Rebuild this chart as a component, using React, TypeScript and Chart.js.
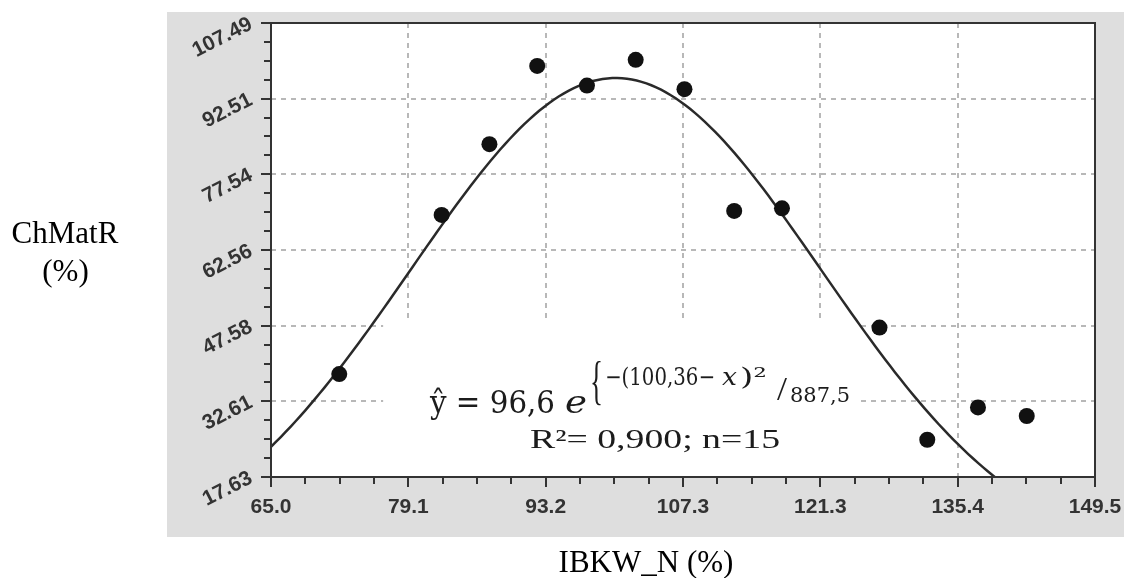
import React, { useEffect, useRef } from 'react';
import { Chart, registerables } from 'chart.js';

Chart.register(...registerables);

// Axis ranges and tick labels
const xMin = 65.0;
const xMax = 149.5;
const yMin = 17.63;
const yMax = 107.49;
const xTickLabels = ['65.0', '79.1', '93.2', '107.3', '121.3', '135.4', '149.5'];
const yTickLabels = ['17.63', '32.61', '47.58', '62.56', '77.54', '92.51', '107.49'];

// Observations: IBKW_N (%) vs ChMatR (%)
const ibkwN = [72.0, 82.5, 87.4, 92.3, 97.4, 102.4, 107.4, 112.5, 117.4, 127.4, 132.3, 137.5, 142.5];
const chMatR = [38.0, 69.5, 83.5, 99.0, 95.1, 100.2, 94.4, 70.3, 70.8, 47.2, 25.0, 31.4, 29.7];

// Fitted Gaussian model: ŷ = 96,6 · e^(−(100,36 − x)² / 887,5)
const fitA = 96.6;
const fitB = 100.36;
const fitC = 887.5;

const MAJOR_DIVS = 6;
const MINOR_DIVS = 4;

const majorValues = (min: number, max: number) =>
  Array.from({ length: MAJOR_DIVS + 1 }, (_, i) => min + ((max - min) * i) / MAJOR_DIVS);

const fitXs: number[] = [];
for (let x = xMin; x <= xMax + 1e-9; x += 0.5) fitXs.push(x);
const fitPoints = fitXs.map((x) => ({ x, y: fitA * Math.exp(-((fitB - x) ** 2) / fitC) }));

const tickFont = { family: '"Liberation Sans", Arial, sans-serif', size: 21, weight: 'bold' as const };

function drawFitted(
  ctx: CanvasRenderingContext2D,
  text: string,
  x: number,
  baseline: number,
  font: string,
  width: number
) {
  ctx.font = font;
  const w = ctx.measureText(text).width || 1;
  ctx.save();
  ctx.translate(x, baseline);
  ctx.scale(width / w, 1);
  ctx.textAlign = 'left';
  ctx.textBaseline = 'alphabetic';
  ctx.fillText(text, 0, 0);
  ctx.restore();
}

const decorPlugin = {
  id: 'decor',
  beforeDraw(chart: any) {
    const { ctx, chartArea: a } = chart;
    ctx.save();
    ctx.fillStyle = '#dedede';
    ctx.fillRect(167, 12, 1124 - 167, 537 - 12);
    ctx.fillStyle = '#ffffff';
    ctx.fillRect(a.left, a.top, a.right - a.left, a.bottom - a.top);
    ctx.restore();
  },
  beforeDatasetsDraw(chart: any) {
    // white panel behind the equation text
    const { ctx, chartArea: a, scales } = chart;
    const l = scales.x.getPixelForValue(76.5);
    const r = scales.x.getPixelForValue(125.4);
    const t = scales.y.getPixelForValue(48.3);
    ctx.save();
    ctx.fillStyle = '#ffffff';
    ctx.fillRect(l, t, r - l, a.bottom - t);
    ctx.restore();
  },
  afterDraw(chart: any) {
    const { ctx, chartArea: a, scales } = chart;
    ctx.save();
    // frame
    ctx.strokeStyle = '#333333';
    ctx.lineWidth = 2;
    ctx.strokeRect(a.left, a.top, a.right - a.left, a.bottom - a.top);

    // minor ticks
    ctx.lineWidth = 2;
    const xs = majorValues(xMin, xMax);
    for (let i = 0; i < xs.length - 1; i++) {
      const step = (xs[i + 1] - xs[i]) / MINOR_DIVS;
      for (let k = 1; k < MINOR_DIVS; k++) {
        const px = Math.round(scales.x.getPixelForValue(xs[i] + k * step));
        ctx.beginPath();
        ctx.moveTo(px, a.bottom);
        ctx.lineTo(px, a.bottom + 7);
        ctx.stroke();
      }
    }
    const ys = majorValues(yMin, yMax);
    for (let i = 0; i < ys.length - 1; i++) {
      const step = (ys[i + 1] - ys[i]) / MINOR_DIVS;
      for (let k = 1; k < MINOR_DIVS; k++) {
        const py = Math.round(scales.y.getPixelForValue(ys[i] + k * step));
        ctx.beginPath();
        ctx.moveTo(a.left, py);
        ctx.lineTo(a.left - 7, py);
        ctx.stroke();
      }
    }

    // axis titles
    ctx.fillStyle = '#000000';
    ctx.font = '31px "Liberation Serif", "Times New Roman", serif';
    ctx.textAlign = 'center';
    ctx.textBaseline = 'alphabetic';
    ctx.fillText('ChMatR', 65, 243);
    ctx.fillText('(%)', 65.5, 281);
    ctx.fillText('IBKW_N (%)', 646, 572);

    // model equation
    ctx.fillStyle = '#1c1c1c';
    const math = '"DejaVu Serif", serif';
    const times = '"Liberation Serif", "Times New Roman", serif';
    drawFitted(ctx, 'ŷ = 96,6', 430, 413, `31px ${math}`, 125);
    drawFitted(ctx, 'e', 565, 413, `italic 31px ${math}`, 22);
    drawFitted(ctx, '{', 590, 398, `53px ${times}`, 13);
    drawFitted(ctx, '−(100,36−', 605, 385, `24px ${math}`, 110);
    drawFitted(ctx, 'x', 722, 385, `italic 24px ${math}`, 15);
    drawFitted(ctx, ')²', 740, 385, `24px ${math}`, 27);
    drawFitted(ctx, '/', 777, 400, `34px ${times}`, 10);
    drawFitted(ctx, '887,5', 790, 402, `20px ${math}`, 60);
    drawFitted(ctx, 'R²= 0,900; n=15', 530, 448, `27px ${times}`, 250);
    ctx.restore();
  },
};

export default function App() {
  const canvasRef = useRef<HTMLCanvasElement | null>(null);

  useEffect(() => {
    const canvas = canvasRef.current;
    if (!canvas) return;
    const chart = new Chart(canvas, {
      type: 'scatter',
      data: {
        datasets: [
          {
            label: 'ChMatR',
            data: ibkwN.map((x, i) => ({ x, y: chMatR[i] })),
            pointRadius: 8,
            pointHoverRadius: 8,
            pointBackgroundColor: '#111111',
            pointBorderColor: '#111111',
            pointBorderWidth: 0,
            showLine: false,
          },
          {
            label: 'fit',
            data: fitPoints,
            showLine: true,
            borderColor: '#2a2a2a',
            borderWidth: 2.5,
            pointRadius: 0,
            pointHoverRadius: 0,
            tension: 0,
            fill: false,
          },
        ],
      },
      options: {
        responsive: false,
        animation: false,
        events: [],
        layout: { padding: { left: 0, right: 32, top: 23, bottom: 0 } },
        plugins: {
          legend: { display: false },
          tooltip: { enabled: false },
          title: { display: false },
        },
        scales: {
          x: {
            type: 'linear',
            position: 'bottom',
            min: xMin,
            max: xMax,
            afterBuildTicks: (s: any) => {
              s.ticks = majorValues(xMin, xMax).map((v) => ({ value: v }));
            },
            afterFit: (s: any) => {
              s.height = 101;
              s.paddingLeft = 0;
              s.paddingRight = 0;
            },
            ticks: {
              callback: (_v: any, i: number) => xTickLabels[i],
              font: tickFont,
              color: '#333333',
              padding: 8,
              minRotation: 0,
              maxRotation: 0,
              autoSkip: false,
            },
            grid: {
              color: (c: any) => (c.index === 0 || c.index === MAJOR_DIVS ? 'rgba(0,0,0,0)' : '#b8b8b8'),
              lineWidth: 2,
              drawTicks: true,
              tickLength: 10,
              tickColor: '#333333',
              tickWidth: 2,
            },
            border: { display: false, dash: [5, 5] },
          },
          y: {
            type: 'linear',
            position: 'left',
            min: yMin,
            max: yMax,
            afterBuildTicks: (s: any) => {
              s.ticks = majorValues(yMin, yMax).map((v) => ({ value: v }));
            },
            afterFit: (s: any) => {
              s.width = 271;
              s.paddingTop = 0;
              s.paddingBottom = 0;
            },
            ticks: {
              callback: (_v: any, i: number) => yTickLabels[i],
              font: tickFont,
              color: '#333333',
              padding: 10,
              minRotation: 27,
              maxRotation: 27,
              autoSkip: false,
            },
            grid: {
              color: (c: any) => (c.index === 0 || c.index === MAJOR_DIVS ? 'rgba(0,0,0,0)' : '#b8b8b8'),
              lineWidth: 2,
              drawTicks: true,
              tickLength: 10,
              tickColor: '#333333',
              tickWidth: 2,
            },
            border: { display: false, dash: [5, 5] },
          },
        },
      },
      plugins: [decorPlugin],
    });
    return () => chart.destroy();
  }, []);

  return (
    <div style={{ position: 'absolute', left: 0, top: 0, width: 1127, height: 578, background: '#ffffff' }}>
      <canvas ref={canvasRef} width={1127} height={578} style={{ display: 'block' }} />
    </div>
  );
}
